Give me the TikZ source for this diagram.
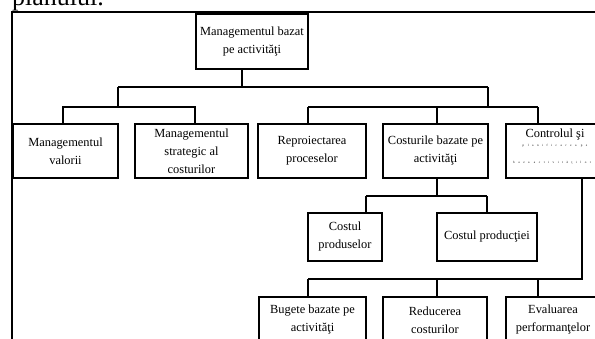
\documentclass[tikz,border=0pt]{standalone}
\usepackage{fontspec}
\setmainfont{Liberation Serif}
\newfontfamily\spacedfont[LetterSpace=110]{Liberation Serif}
\begin{document}
\begin{tikzpicture}[x=1pt,y=-1pt,
  box/.style={draw,line width=1.4pt,align=center,inner sep=0pt,
    font=\fontsize{12.4}{18}\selectfont},
  conn/.style={line width=1.4pt},
  frameline/.style={line width=2.2pt},
  tinytext/.style={inner sep=0pt,font=\spacedfont\fontsize{3.2}{4}\selectfont}]
\useasboundingbox (0,0) rectangle (595,338);
\clip (0,0) rectangle (595,338);
% cut-off caption text
\node[anchor=base west,inner sep=0pt,font=\fontsize{26}{26}\selectfont] (cap) at (12,5) {planului.};
% frame
\coordinate (fTL) at (12,12);
\coordinate (fTR) at (600,12);
\coordinate (fBL) at (12,345);
\draw[frameline] (fBL) -- (fTL) -- (fTR);
% nodes
\node[box,minimum width=112pt,minimum height=55pt] (root) at (252,41.5) {Managementul bazat\\pe activităţi};
\node[box,minimum width=105pt,minimum height=54pt] (mv) at (65.5,151) {Managementul\\valorii};
\node[box,minimum width=113pt,minimum height=54pt] (ms) at (191.5,151) {Managementul\\strategic al\\costurilor};
\node[box,minimum width=108pt,minimum height=54pt] (rp) at (312,151) {Reproiectarea\\proceselor};
\node[box,minimum width=105pt,minimum height=54pt] (cb) at (435.5,151) {Costurile bazate pe\\activităţi};
\node[box,minimum width=100pt,minimum height=54pt] (ct) at (556,151) {};
\node[anchor=base,inner sep=0pt,font=\fontsize{12.4}{18}\selectfont] (ctt) at (555,137) {Controlul şi};
\node[tinytext,anchor=base] (ct1) at (555,146) {planificarea pe};
\node[tinytext,anchor=base west] (ct2) at (513,163) {baza activităţilor};
\node[box,minimum width=74pt,minimum height=48pt] (cp) at (345,237) {Costul\\produselor};
\node[box,minimum width=100pt,minimum height=48pt] (cpr) at (487,237) {Costul producţiei};
\node[box,minimum width=107pt,minimum height=46pt] (bg) at (312.5,320) {Bugete bazate pe\\activităţi};
\node[box,minimum width=104pt,minimum height=46pt] (rc) at (435,320) {Reducerea\\costurilor};
\node[box,minimum width=94pt,minimum height=46pt] (ev) at (553,320) {Evaluarea\\performanţelor};
% connectors
\draw[conn] ([xshift=-10pt]root.south) |- (118,87) coordinate (bL);
\draw[conn] (bL) -- (488,87) coordinate (bR);
\draw[conn] (bL) |- (63,107) coordinate (sL1) -- (mv.north -| sL1);
\draw[conn] (118,107) -- (195,107) coordinate (sL2) -- (ms.north -| sL2);
\draw[conn] (bR) -- (488,107) coordinate (sRm);
\draw[conn] (308,107) coordinate (sR1) -- (538,107) coordinate (sR3);
\draw[conn] (sR1) -- (rp.north -| sR1);
\draw[conn] (437,107) coordinate (sR2) -- (cb.north -| sR2);
\draw[conn] (sR3) -- (ct.north -| sR3);
\draw[conn] (cb.south -| 437,0) -- (437,196) coordinate (cbs);
\draw[conn] (366,196) coordinate (c1) -- (487,196) coordinate (c2);
\draw[conn] (c1) -- (cp.north -| c1);
\draw[conn] (c2) -- (cpr.north -| c2);
\draw[conn] (ct.south -| 582,0) -- (582,279) coordinate (d3) -- (308,279) coordinate (d1);
\draw[conn] (d1) -- (bg.north -| d1);
\draw[conn] (437,279) coordinate (d2) -- (rc.north -| d2);
\draw[conn] (538,279) coordinate (d4) -- (ev.north -| d4);
\end{tikzpicture}
\end{document}
